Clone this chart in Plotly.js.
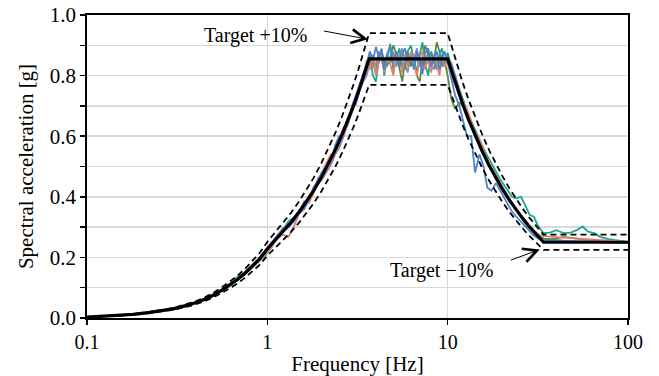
<!DOCTYPE html>
<html>
<head>
<meta charset="utf-8">
<script src="https://cdn.plot.ly/plotly-3.0.1.min.js"></script>
<style>
  html, body { margin: 0; padding: 0; background: #ffffff; }
  #chart { width: 659px; height: 376px; }
</style>
</head>
<body>
<div id="chart"></div>
<script>
// Frequency grid shared by the recorded response spectra [Hz]
const freq = [
  0.1, 0.12, 0.15, 0.18, 0.22, 0.26, 0.3, 0.35, 0.4, 0.45,
  0.5, 0.56, 0.62, 0.68, 0.75, 0.82, 0.9, 0.97, 1.05, 1.13,
  1.22, 1.31, 1.4, 1.5, 1.6, 1.7, 1.8, 1.9, 2.0, 2.12,
  2.25, 2.38, 2.5, 2.65, 2.8, 2.95, 3.1, 3.25, 3.4, 3.55,
  3.7, 3.85, 4.0, 4.15, 4.3, 4.45, 4.6, 4.8, 5.0, 5.2,
  5.4, 5.6, 5.8, 6.0, 6.25, 6.5, 6.75, 7.0, 7.25, 7.5,
  7.8, 8.1, 8.4, 8.7, 9.0, 9.3, 9.6, 10.0, 10.5, 11.0,
  11.6, 12.2, 12.8, 13.5, 14.2, 15.0, 15.8, 16.6, 17.5, 18.5,
  19.5, 20.5, 21.5, 22.7, 24, 25.5, 27, 28.5, 30, 32,
  34, 37, 40, 44, 48, 52, 56, 60, 65, 70,
  78, 86, 93, 100
];

// Spectral acceleration of each recorded motion [g]
const recBlue = [
  0.003, 0.005, 0.009, 0.013, 0.019, 0.026, 0.032, 0.042, 0.052, 0.060,
  0.073, 0.095, 0.112, 0.124, 0.150, 0.172, 0.198, 0.222, 0.248, 0.270,
  0.296, 0.300, 0.318, 0.345, 0.360, 0.388, 0.430, 0.452, 0.478, 0.500,
  0.515, 0.570, 0.600, 0.610, 0.640, 0.700, 0.735, 0.770, 0.800, 0.835,
  0.880, 0.850, 0.895, 0.860, 0.885, 0.820, 0.870, 0.895, 0.850, 0.880,
  0.830, 0.870, 0.890, 0.845, 0.865, 0.820, 0.880, 0.850, 0.805, 0.875,
  0.890, 0.830, 0.860, 0.880, 0.820, 0.850, 0.880, 0.845, 0.790, 0.735,
  0.700, 0.650, 0.600, 0.600, 0.480, 0.540, 0.500, 0.430, 0.420, 0.445,
  0.420, 0.400, 0.375, 0.352, 0.335, 0.318, 0.300, 0.285, 0.272, 0.262,
  0.258, 0.256, 0.255, 0.254, 0.254, 0.253, 0.253, 0.252, 0.252, 0.251,
  0.251, 0.250, 0.250, 0.250
];
const recSalmon = [
  0.003, 0.005, 0.008, 0.012, 0.018, 0.025, 0.031, 0.041, 0.051, 0.064,
  0.077, 0.090, 0.106, 0.128, 0.145, 0.165, 0.190, 0.210, 0.230, 0.262,
  0.275, 0.268, 0.300, 0.345, 0.385, 0.380, 0.410, 0.460, 0.475, 0.510,
  0.540, 0.540, 0.590, 0.630, 0.640, 0.680, 0.720, 0.760, 0.790, 0.850,
  0.820, 0.870, 0.800, 0.850, 0.880, 0.810, 0.860, 0.840, 0.800, 0.880,
  0.850, 0.810, 0.870, 0.830, 0.880, 0.840, 0.800, 0.860, 0.880, 0.820,
  0.860, 0.810, 0.870, 0.840, 0.800, 0.860, 0.830, 0.850, 0.800, 0.770,
  0.745, 0.710, 0.690, 0.650, 0.610, 0.590, 0.555, 0.520, 0.495, 0.470,
  0.445, 0.425, 0.400, 0.380, 0.360, 0.340, 0.320, 0.305, 0.290, 0.275,
  0.270, 0.268, 0.266, 0.265, 0.263, 0.262, 0.261, 0.260, 0.258, 0.257,
  0.255, 0.253, 0.252, 0.250
];
const recTeal = [
  0.003, 0.005, 0.008, 0.012, 0.018, 0.024, 0.030, 0.040, 0.050, 0.063,
  0.076, 0.093, 0.112, 0.135, 0.150, 0.170, 0.188, 0.205, 0.232, 0.270,
  0.290, 0.320, 0.330, 0.345, 0.360, 0.400, 0.425, 0.440, 0.480, 0.490,
  0.520, 0.550, 0.575, 0.620, 0.660, 0.690, 0.730, 0.770, 0.810, 0.840,
  0.870, 0.800, 0.780, 0.850, 0.890, 0.800, 0.850, 0.905, 0.820, 0.860,
  0.890, 0.830, 0.820, 0.880, 0.900, 0.850, 0.810, 0.870, 0.910, 0.840,
  0.800, 0.880, 0.850, 0.820, 0.870, 0.890, 0.840, 0.875, 0.830, 0.790,
  0.750, 0.720, 0.680, 0.650, 0.620, 0.590, 0.560, 0.535, 0.510, 0.480,
  0.460, 0.440, 0.420, 0.400, 0.395, 0.400, 0.370, 0.340, 0.335, 0.300,
  0.280, 0.282, 0.290, 0.280, 0.282, 0.290, 0.302, 0.285, 0.280, 0.268,
  0.260, 0.256, 0.253, 0.251
];
const recGreen = [
  0.003, 0.005, 0.008, 0.012, 0.018, 0.024, 0.031, 0.040, 0.051, 0.061,
  0.074, 0.090, 0.110, 0.128, 0.148, 0.170, 0.195, 0.222, 0.245, 0.265,
  0.288, 0.310, 0.322, 0.352, 0.378, 0.395, 0.420, 0.445, 0.470, 0.497,
  0.525, 0.560, 0.590, 0.610, 0.650, 0.685, 0.720, 0.760, 0.795, 0.830,
  0.860, 0.840, 0.810, 0.860, 0.880, 0.850, 0.830, 0.860, 0.900, 0.870,
  0.820, 0.780, 0.850, 0.880, 0.830, 0.860, 0.800, 0.780, 0.850, 0.900,
  0.870, 0.830, 0.850, 0.910, 0.880, 0.830, 0.850, 0.800, 0.720, 0.690,
  0.710, 0.700, 0.660, 0.630, 0.600, 0.575, 0.540, 0.510, 0.485, 0.460,
  0.440, 0.420, 0.395, 0.375, 0.355, 0.335, 0.318, 0.300, 0.285, 0.272,
  0.262, 0.260, 0.262, 0.268, 0.265, 0.262, 0.260, 0.258, 0.257, 0.255,
  0.254, 0.252, 0.251, 0.250
];
const recPurple = [
  0.003, 0.005, 0.008, 0.012, 0.018, 0.024, 0.030, 0.040, 0.050, 0.062,
  0.075, 0.092, 0.109, 0.128, 0.150, 0.168, 0.192, 0.215, 0.245, 0.265,
  0.282, 0.300, 0.330, 0.355, 0.370, 0.390, 0.425, 0.440, 0.455, 0.480,
  0.505, 0.540, 0.560, 0.600, 0.650, 0.690, 0.705, 0.750, 0.780, 0.800,
  0.840, 0.860, 0.830, 0.880, 0.850, 0.820, 0.870, 0.840, 0.880, 0.830,
  0.860, 0.890, 0.840, 0.810, 0.870, 0.850, 0.890, 0.830, 0.860, 0.840,
  0.880, 0.840, 0.820, 0.860, 0.840, 0.870, 0.830, 0.860, 0.840, 0.800,
  0.760, 0.715, 0.675, 0.640, 0.605, 0.575, 0.545, 0.520, 0.492, 0.466,
  0.440, 0.420, 0.400, 0.380, 0.358, 0.338, 0.320, 0.302, 0.287, 0.270,
  0.260, 0.258, 0.256, 0.255, 0.254, 0.253, 0.252, 0.252, 0.251, 0.251,
  0.250, 0.250, 0.250, 0.250
];
const recGray = [
  0.003, 0.005, 0.008, 0.012, 0.018, 0.024, 0.030, 0.040, 0.050, 0.062,
  0.075, 0.092, 0.109, 0.126, 0.147, 0.165, 0.185, 0.205, 0.240, 0.262,
  0.285, 0.305, 0.325, 0.348, 0.370, 0.395, 0.415, 0.440, 0.465, 0.490,
  0.520, 0.550, 0.580, 0.615, 0.650, 0.685, 0.720, 0.755, 0.790, 0.825,
  0.850, 0.830, 0.860, 0.840, 0.870, 0.850, 0.830, 0.860, 0.840, 0.870,
  0.850, 0.830, 0.860, 0.850, 0.840, 0.870, 0.850, 0.830, 0.860, 0.850,
  0.840, 0.860, 0.850, 0.830, 0.860, 0.850, 0.840, 0.855, 0.810, 0.775,
  0.735, 0.700, 0.665, 0.632, 0.600, 0.568, 0.540, 0.513, 0.487, 0.460,
  0.437, 0.416, 0.397, 0.376, 0.355, 0.334, 0.316, 0.300, 0.284, 0.268,
  0.258, 0.256, 0.255, 0.254, 0.253, 0.253, 0.252, 0.252, 0.251, 0.251,
  0.250, 0.250, 0.250, 0.250
];

// Target design spectrum [Hz], [g]
const targetFreq = [
  0.1, 0.12, 0.15, 0.18, 0.22, 0.26, 0.3, 0.35, 0.4, 0.45,
  0.5, 0.56, 0.62, 0.68, 0.75, 0.82, 0.9, 1.0, 1.1, 1.2,
  1.35, 1.5, 1.65, 1.8, 2.0, 2.2, 2.4, 2.6, 2.8, 3.0,
  3.2, 3.4, 3.67, 10, 11, 12, 13, 14, 15.5, 17,
  18.5, 20, 22, 24, 26, 28, 30, 32, 34, 100
];
const targetAccel = [
  0.003, 0.005, 0.008, 0.012, 0.018, 0.024, 0.030, 0.040, 0.050, 0.062,
  0.075, 0.092, 0.109, 0.126, 0.147, 0.168, 0.193, 0.228, 0.256, 0.280,
  0.315, 0.350, 0.385, 0.419, 0.466, 0.513, 0.559, 0.606, 0.653, 0.699,
  0.746, 0.792, 0.855, 0.855, 0.777, 0.713, 0.658, 0.611, 0.552, 0.503,
  0.462, 0.428, 0.389, 0.356, 0.329, 0.305, 0.285, 0.267, 0.250, 0.250
];
const toleranceUpper = 1.10;
const toleranceLower = 0.90;

// Axis tick labels
const xTickVals = [0.1, 1, 10, 100];
const xTickText = ['0.1', '1', '10', '100'];

const records = [
  { y: recGray,   color: '#a9a9a9' },
  { y: recPurple, color: '#9b82b9' },
  { y: recGreen,  color: '#5a8c3c' },
  { y: recTeal,   color: '#1fa595' },
  { y: recSalmon, color: '#e4816b' },
  { y: recBlue,   color: '#4f80d3' }
];

const traces = records.map(r => ({
  x: freq, y: r.y, type: 'scatter', mode: 'lines',
  line: { color: r.color, width: 1.8 },
  hoverinfo: 'skip'
}));

traces.push({
  x: targetFreq, y: targetAccel.map(v => v * toleranceUpper),
  type: 'scatter', mode: 'lines',
  line: { color: '#000000', width: 1.8, dash: '6px,4px' }
});
traces.push({
  x: targetFreq, y: targetAccel.map(v => v * toleranceLower),
  type: 'scatter', mode: 'lines',
  line: { color: '#000000', width: 1.8, dash: '6px,4px' }
});
traces.push({
  x: targetFreq, y: targetAccel,
  type: 'scatter', mode: 'lines',
  line: { color: '#000000', width: 3.2 }
});

const serif = 'Liberation Serif, Times New Roman, serif';
const gridColor = '#d9d9d9';

const layout = {
  width: 659, height: 376,
  margin: { l: 87, r: 31, t: 15, b: 58 },
  paper_bgcolor: '#ffffff', plot_bgcolor: '#ffffff',
  showlegend: false,
  font: { family: serif, size: 20, color: '#000000' },
  xaxis: {
    type: 'log', range: [-1, 2],
    tickvals: xTickVals, ticktext: xTickText,
    ticks: 'outside', ticklen: 5, tickwidth: 1.5, tickcolor: '#000000',
    showgrid: true, gridcolor: gridColor, gridwidth: 1.5,
    showline: true, linecolor: '#000000', linewidth: 1.8, mirror: true,
    zeroline: false,
    tickfont: { family: serif, size: 20 },
    title: { text: 'Frequency [Hz]', font: { family: serif, size: 21 }, standoff: 6 }
  },
  yaxis: {
    range: [0, 1], tick0: 0, dtick: 0.2, tickformat: '.1f',
    ticks: 'outside', ticklen: 5, tickwidth: 1.5, tickcolor: '#000000',
    showgrid: true, gridcolor: gridColor, gridwidth: 1.5,
    minor: {
      dtick: 0.1, ticks: 'outside', ticklen: 5, tickwidth: 1.5, tickcolor: '#000000',
      showgrid: true, gridcolor: gridColor, gridwidth: 1.5
    },
    showline: true, linecolor: '#000000', linewidth: 1.8, mirror: true,
    zeroline: false,
    tickfont: { family: serif, size: 21 },
    title: { text: 'Spectral acceleration [g]', font: { family: serif, size: 21 }, standoff: 10 }
  },
  // White label backgrounds sit over the grid but under the curves
  shapes: [
    { type: 'rect', xref: 'paper', yref: 'paper', x0: 0.185, x1: 0.43, y0: 0.845, y1: 1.0,
      fillcolor: '#ffffff', line: { width: 0 }, layer: 'between' },
    { type: 'rect', xref: 'paper', yref: 'paper', x0: 0.532, x1: 0.835, y0: 0.10, y1: 0.232,
      fillcolor: '#ffffff', line: { width: 0 }, layer: 'between' }
  ],
  annotations: [
    { text: 'Target +10%', xref: 'paper', yref: 'paper', x: 0.311, y: 0.932,
      xanchor: 'center', yanchor: 'middle', showarrow: false,
      font: { family: serif, size: 20, color: '#000000' } },
    { text: ' ', xref: 'x', yref: 'y', x: 0.558, y: 0.92,
      showarrow: true, ax: -48, ay: -9, arrowhead: 5, arrowsize: 2.7,
      arrowwidth: 1, arrowcolor: '#000000', standoff: 0 },
    { text: 'Target \u221210%', xref: 'paper', yref: 'paper', x: 0.656, y: 0.158,
      xanchor: 'center', yanchor: 'middle', showarrow: false,
      font: { family: serif, size: 20, color: '#000000' } },
    { text: ' ', xref: 'x', yref: 'y', x: 1.511, y: 0.226,
      showarrow: true, ax: -33, ay: 12, arrowhead: 5, arrowsize: 2.7,
      arrowwidth: 1, arrowcolor: '#000000', standoff: 0 }
  ]
};

Plotly.newPlot('chart', traces, layout, { displayModeBar: false, staticPlot: true });
</script>
</body>
</html>
